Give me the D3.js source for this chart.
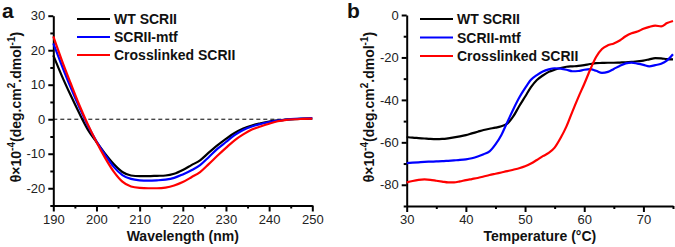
<!DOCTYPE html>
<html>
<head>
<script src="https://d3js.org/d3.v7.min.js"></script>
<style>
  body { margin: 0; background: #fff; font-family: "Liberation Sans", Arial, sans-serif; }
  .tick text { font-size: 13px; fill: #222; font-family: "Liberation Sans", Arial, sans-serif; }
  .domain, .tick line { stroke: #000; stroke-width: 2px; }
  .title { font-size: 14px; font-weight: bold; fill: #111; }
  .ytitle { font-size: 14px; font-weight: bold; fill: #111; }
  .legend text { font-size: 14px; font-weight: bold; fill: #111; }
  .panel { font-size: 21px; font-weight: bold; fill: #111; }
</style>
</head>
<body>
<svg id="chart" width="675" height="247"></svg>
<script>
// panel a: CD spectra
var wavelength = [190,192,194,196,198,200,202,204,206,208,210,212,214,216,218,220,222,224,226,228,230,232,234,236,238,240,242,244,246,248,250];
var wtSpectrum = [18.5,12.5,7,1.8,-3,-6.6,-10,-13,-15.3,-16.3,-16.5,-16.5,-16.4,-16.3,-15.8,-14.7,-13.3,-11.9,-9.7,-7.6,-5.7,-4,-2.7,-1.8,-1.2,-0.7,-0.35,-0.1,0.05,0.15,0.2];
var mtfSpectrum = [22,15.5,9.3,3.5,-1.8,-6.4,-10.3,-13.8,-16.2,-17.3,-17.7,-17.8,-17.7,-17.5,-17,-16,-14.8,-13.3,-11,-8.6,-6.6,-4.6,-3.1,-2.1,-1.4,-0.8,-0.4,-0.1,0.1,0.2,0.3];
var xlSpectrum = [24,17,10.5,4.2,-1.5,-6.6,-11.2,-15.2,-18.1,-19.5,-19.9,-20,-20,-19.8,-19.2,-18.2,-16.8,-15.3,-13,-10.6,-8.3,-6.1,-4.4,-3,-2.1,-1.3,-0.6,-0.2,0,0.1,0.2];

// panel b: thermal melts
var temperature = [30,31,32,33,34,35,36,37,38,39,40,41,42,43,44,45,46,47,48,49,50,51,52,53,54,55,56,57,58,59,60,61,62,63,64,65,66,67,68,69,70,71,72,73,74,75];
var wtMelt = [-57.5,-57.8,-58,-58.2,-58.4,-58.5,-58.4,-58.1,-57.7,-57.2,-56.6,-55.8,-55,-54.2,-53.6,-53.1,-52.4,-51.2,-47.8,-43,-38.5,-34,-30.6,-28.5,-26.8,-25.8,-25,-24.4,-24.2,-24,-23.6,-23.1,-22.7,-22.6,-22.5,-22.5,-22.4,-22.3,-22.1,-21.8,-21.5,-20.9,-20.3,-20.4,-20.8,-20.9];
var mtfMelt = [-69.8,-69.6,-69.4,-69.2,-69.1,-69,-68.9,-68.7,-68.5,-68.3,-68,-67.5,-66.7,-65.6,-64.3,-61,-56.5,-50.5,-44.5,-39,-34.5,-30.5,-28.3,-26.6,-25.6,-25.1,-25.3,-25.8,-26.5,-26.4,-25.8,-25.5,-26.3,-27.3,-26.8,-25.4,-24,-22.8,-22.4,-22.9,-23.5,-24.2,-23.6,-23,-21.4,-18.5];
var xlMelt = [-78.9,-78.2,-77.7,-77.5,-77.7,-78.1,-78.5,-78.9,-78.9,-78.4,-77.8,-77.3,-76.8,-76.1,-75.4,-74.8,-74.2,-73.6,-72.9,-72.2,-71.3,-70,-68.3,-66.5,-65,-62.5,-58,-52.5,-45.5,-38.8,-32.5,-25.8,-19.8,-16,-14.3,-13.4,-12,-10,-8.6,-7.8,-6.5,-5.6,-5,-5.4,-3.8,-2.8];

var seriesNames = ["WT SCRII", "SCRII-mtf", "Crosslinked SCRII"];
var colors = ["#000000", "#0000ff", "#ff0000"];

var svg = d3.select("#chart");
var fmt = function(d) { return String(d); };

function drawPanel(opt) {
    var g = svg.append("g");
    var x = d3.scaleLinear().domain(opt.xDomain).range(opt.xRange);
    var y = d3.scaleLinear().domain(opt.yDomain).range(opt.yRange);

    // minor ticks
    g.append("g")
        .attr("transform", "translate(0," + opt.yRange[0] + ")")
        .call(d3.axisBottom(x).tickValues(opt.xMinor).tickSize(3).tickFormat(""))
        .select(".domain").remove();
    g.append("g")
        .attr("transform", "translate(" + opt.xRange[0] + ",0)")
        .call(d3.axisLeft(y).tickValues(opt.yMinor).tickSize(3).tickFormat(""))
        .select(".domain").remove();

    g.append("g")
        .attr("transform", "translate(0," + opt.yRange[0] + ")")
        .call(d3.axisBottom(x).tickValues(opt.xTicks).tickSize(6).tickSizeOuter(0).tickPadding(3).tickFormat(fmt));
    g.append("g")
        .attr("transform", "translate(" + opt.xRange[0] + ",0)")
        .call(d3.axisLeft(y).tickValues(opt.yTicks).tickSize(5).tickSizeOuter(0).tickPadding(3).tickFormat(fmt));

    if (opt.zeroLine) {
        g.append("line")
            .attr("x1", opt.xRange[0]).attr("x2", opt.xRange[1])
            .attr("y1", y(0)).attr("y2", y(0))
            .attr("stroke", "#000").attr("stroke-width", 1)
            .attr("stroke-dasharray", "4,3");
    }

    var line = d3.line()
        .x(function(d) { return x(d[0]); })
        .y(function(d) { return y(d[1]); })
        .curve(d3.curveMonotoneX);

    opt.series.forEach(function(s, i) {
        var pts = opt.xs.map(function(v, j) { return [v, s[j]]; });
        g.append("path")
            .datum(pts)
            .attr("fill", "none")
            .attr("stroke", colors[i])
            .attr("stroke-width", 2.2)
            .attr("d", line);
    });

    var leg = g.append("g").attr("class", "legend");
    seriesNames.forEach(function(name, i) {
        var ly = opt.legendY[i];
        leg.append("line")
            .attr("x1", opt.legendX).attr("x2", opt.legendX + 33)
            .attr("y1", ly).attr("y2", ly)
            .attr("stroke", colors[i]).attr("stroke-width", 2.2);
        leg.append("text")
            .attr("x", opt.legendX + 37).attr("y", ly + 5)
            .text(name);
    });

    g.append("text").attr("class", "title")
        .attr("x", (opt.xRange[0] + opt.xRange[1]) / 2).attr("y", 241)
        .attr("text-anchor", "middle")
        .text(opt.xTitle);

    var yt = g.append("text").attr("class", "ytitle")
        .attr("transform", "translate(" + opt.yTitleX + ",107) rotate(-90)")
        .attr("text-anchor", "middle");
    yt.append("tspan").text("θ×10");
    yt.append("tspan").attr("dy", -6).attr("font-size", "10px").text("-4");
    yt.append("tspan").attr("dy", 6).text("(deg.cm");
    yt.append("tspan").attr("dy", -6).attr("font-size", "10px").text("2");
    yt.append("tspan").attr("dy", 6).text(".dmol");
    yt.append("tspan").attr("dy", -6).attr("font-size", "10px").text("-1");
    yt.append("tspan").attr("dy", 6).text(")");

    g.append("text").attr("class", "panel")
        .attr("x", opt.labelX).attr("y", 18)
        .text(opt.label);
}

drawPanel({
    xDomain: [190, 250], xRange: [53.3, 312.3],
    yDomain: [-25, 30], yRange: [205.5, 15.7],
    xTicks: d3.range(190, 251, 10), xMinor: d3.range(195, 250, 10),
    yTicks: d3.range(-20, 31, 10), yMinor: d3.range(-25, 30, 10),
    xs: wavelength, series: [wtSpectrum, mtfSpectrum, xlSpectrum],
    zeroLine: true,
    legendX: 77, legendY: [19, 37, 55],
    xTitle: "Wavelength (nm)", yTitleX: 21,
    label: "a", labelX: 2
});

drawPanel({
    xDomain: [30, 75], xRange: [406.7, 673],
    yDomain: [-90, 0], yRange: [206, 15],
    xTicks: d3.range(30, 71, 10), xMinor: d3.range(35, 76, 10),
    yTicks: d3.range(-80, 1, 20), yMinor: d3.range(-90, 0, 20),
    xs: temperature, series: [wtMelt, mtfMelt, xlMelt],
    zeroLine: false,
    legendX: 420, legendY: [19, 37.5, 56],
    xTitle: "Temperature (°C)", yTitleX: 374,
    label: "b", labelX: 347
});
</script>
</body>
</html>
